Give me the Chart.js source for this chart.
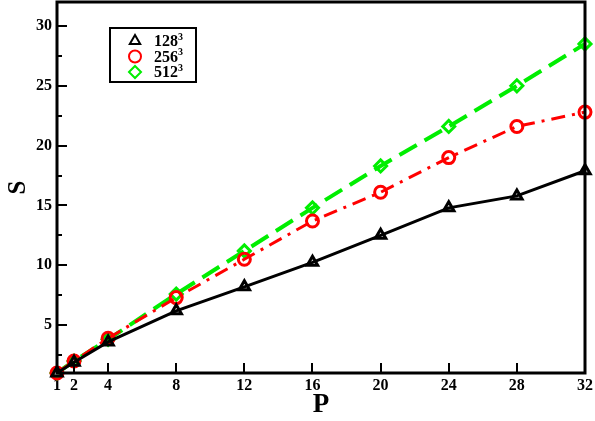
<!DOCTYPE html>
<html>
<head>
<meta charset="utf-8">
<script src="https://cdn.jsdelivr.net/npm/chart.js@4/dist/chart.umd.min.js"></script>
<style>
  html, body { margin: 0; padding: 0; background: #fff; }
  #wrap { width: 595px; height: 421px; }
</style>
</head>
<body>
<div id="wrap"><canvas id="chart" width="595" height="421"></canvas></div>
<script>
const procs = [1, 2, 4, 8, 12, 16, 20, 24, 28, 32];
const s128 = [1, 1.9, 3.6, 6.2, 8.2, 10.25, 12.5, 14.8, 15.8, 17.9];
const s256 = [1, 2.0, 3.9, 7.3, 10.5, 13.7, 16.1, 19.0, 21.6, 22.8];
const s512 = [1, 2.0, 3.8, 7.6, 11.2, 14.8, 18.3, 21.6, 25.0, 28.5];
const xTicks = [1, 2, 4, 8, 12, 16, 20, 24, 28, 32];
const yTicks = [5, 10, 15, 20, 25, 30];
const yMinor = [2.5, 7.5, 12.5, 17.5, 22.5, 27.5];

const serif = '"Liberation Serif", "DejaVu Serif", serif';
const pts = arr => arr.map((v, i) => ({ x: procs[i], y: v }));

// frame, inward ticks and the legend box
const frame = {
  id: 'frame',
  afterDraw(chart) {
    const { ctx, chartArea: a, scales: { x, y } } = chart;
    ctx.save();
    ctx.strokeStyle = '#000';
    ctx.lineWidth = 2;
    ctx.beginPath();
    xTicks.slice(1, -1).forEach(v => {
      const px = Math.round(x.getPixelForValue(v));
      ctx.moveTo(px, a.bottom); ctx.lineTo(px, a.bottom - 10);
    });
    yTicks.forEach(v => {
      const py = Math.round(y.getPixelForValue(v));
      ctx.moveTo(a.left, py); ctx.lineTo(a.left + 10, py);
    });
    yMinor.forEach(v => {
      const py = Math.round(y.getPixelForValue(v));
      ctx.moveTo(a.left, py); ctx.lineTo(a.left + 5, py);
    });
    ctx.stroke();
    ctx.lineWidth = 3;
    ctx.strokeRect(a.left, a.top, a.right - a.left, a.bottom - a.top);

    // legend
    ctx.lineWidth = 2;
    ctx.strokeRect(110, 28, 86, 54);
    ctx.textBaseline = 'middle';
    chart.data.datasets.forEach((ds, i) => {
      const yy = 41 + i * 15.5;
      ctx.strokeStyle = ds.borderColor;
      ctx.fillStyle = 'rgba(0,0,0,0)';
      Chart.helpers.drawPoint(ctx, {
        pointStyle: ds.pointStyle, radius: 6, rotation: 0,
        borderWidth: ds.pointBorderWidth
      }, 135, yy);
      ctx.fillStyle = '#000';
      ctx.font = 'bold 16px ' + serif;
      ctx.fillText(ds.label, 154, yy + 1);
      const w = ctx.measureText(ds.label).width;
      ctx.font = 'bold 10px ' + serif;
      ctx.fillText('3', 154 + w, yy - 4);
    });
    ctx.restore();
  }
};

const mk = (label, data, color, style, dash, lw) => ({
  label, data: pts(data),
  borderColor: color, backgroundColor: 'rgba(0,0,0,0)',
  borderWidth: lw, borderDash: dash,
  pointStyle: style, pointRadius: 6, pointBorderWidth: 3,
  pointBorderColor: color, pointBackgroundColor: 'rgba(0,0,0,0)',
  tension: 0, clip: false
});

new Chart(document.getElementById('chart'), {
  type: 'line',
  data: {
    datasets: [
      mk('128', s128, '#000000', 'triangle', [], 3),
      mk('256', s256, '#ff0000', 'circle', [14, 7, 3, 7], 3),
      mk('512', s512, '#00ee00', 'rectRot', [20, 9], 4)
    ]
  },
  options: {
    responsive: false,
    animation: false,
    layout: { autoPadding: false, padding: { left: 0, right: 10, top: 2, bottom: 0 } },
    plugins: { legend: { display: false }, tooltip: { enabled: false } },
    scales: {
      x: {
        type: 'linear', min: 1, max: 32,
        afterBuildTicks: s => { s.ticks = xTicks.map(v => ({ value: v })); },
        afterFit: s => { s.height = 48; s.paddingLeft = 0; s.paddingRight = 0; },
        grid: { display: false, drawTicks: false }, border: { display: false },
        ticks: { color: '#000', padding: 3, maxRotation: 0, autoSkip: false,
                 font: { family: serif, size: 16, weight: 'bold' } },
        title: { display: true, text: 'P', color: '#000',
                 font: { family: serif, size: 27, weight: 'bold', lineHeight: 1.2 },
                 padding: { top: 0, bottom: 0 } }
      },
      y: {
        type: 'linear', min: 1, max: 32,
        afterBuildTicks: s => { s.ticks = yTicks.map(v => ({ value: v })); },
        afterFit: s => { s.width = 57; s.paddingTop = 0; s.paddingBottom = 0; },
        grid: { display: false, drawTicks: false }, border: { display: false },
        ticks: { color: '#000', padding: 5,
                 font: { family: serif, size: 16, weight: 'bold' } },
        title: { display: true, text: 'S', color: '#000',
                 font: { family: serif, size: 25, weight: 'bold', lineHeight: 1.2 },
                 padding: { top: 4, bottom: 0 } }
      }
    }
  },
  plugins: [frame]
});
</script>
</body>
</html>
